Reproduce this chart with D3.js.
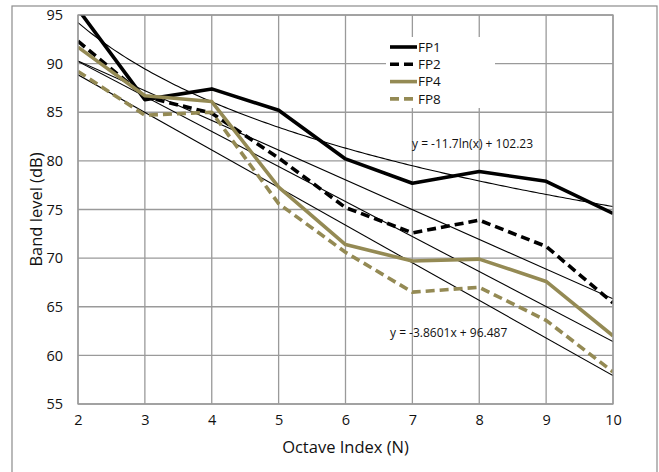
<!DOCTYPE html>
<html><head><meta charset="utf-8">
<script src="https://cdn.jsdelivr.net/npm/d3@7"></script>
<style>
html,body{margin:0;padding:0;background:#fff;}
svg{display:block;font-family:"Open Sans",sans-serif;}
</style></head>
<body>
<svg id="c" width="659" height="472"></svg>
<script>
const octaves = [2,3,4,5,6,7,8,9,10];
const fp1 = [95.6,86.3,87.4,85.2,80.2,77.7,78.9,77.9,74.6];
const fp2 = [92.3,86.6,84.9,80.3,75.2,72.6,73.9,71.2,65.4];
const fp4 = [91.7,86.7,86.1,77.3,71.4,69.7,69.9,67.6,62.0];
const fp8 = [89.2,84.7,85.0,75.6,70.6,66.5,67.0,63.6,58.3];
const seriesNames = ["FP1","FP2","FP4","FP8"];
const yTicks = [55,60,65,70,75,80,85,90,95];
const xTicks = [2,3,4,5,6,7,8,9,10];
const eqLog = "y = -11.7ln(x) + 102.23";
const eqLin = "y = -3.8601x + 96.487";

const series = [
  {name:"FP1", values:fp1, color:"#000", dash:null, trend:"log"},
  {name:"FP2", values:fp2, color:"#000", dash:"9,5", trend:"lin"},
  {name:"FP4", values:fp4, color:"#948A54", dash:null, trend:"lin"},
  {name:"FP8", values:fp8, color:"#948A54", dash:"9,5", trend:"lin"}
];

const svg = d3.select("#c");
const L=78, R=613, T=15, B=404;
const x = d3.scaleLinear().domain([2,10]).range([L,R]);
const y = d3.scaleLinear().domain([55,95]).range([B,T]);

svg.append("rect").attr("x",12).attr("y",6).attr("width",645).attr("height",480)
  .attr("fill","#fff").attr("stroke","#8c8c8c").attr("stroke-width",1.2);

const grid = svg.append("g");
grid.selectAll(".gy").data(yTicks).join("line")
  .attr("x1",L).attr("x2",R).attr("y1",d=>y(d)).attr("y2",d=>y(d))
  .attr("stroke","#9a9a9a").attr("stroke-width",1.3);
grid.selectAll(".gx").data(xTicks).join("line")
  .attr("y1",T).attr("y2",B).attr("x1",d=>x(d)).attr("x2",d=>x(d))
  .attr("stroke","#9a9a9a").attr("stroke-width",1.3);

const yAxis = svg.append("g").attr("transform",`translate(${L},0)`)
  .call(d3.axisLeft(y).tickValues(yTicks).tickSize(0).tickPadding(15));
const xAxis = svg.append("g").attr("transform",`translate(0,${B})`)
  .call(d3.axisBottom(x).tickValues(xTicks).tickSize(0).tickPadding(11));
[yAxis,xAxis].forEach(a=>{
  a.select(".domain").remove();
  a.selectAll("text").attr("font-family","Open Sans, sans-serif").attr("font-size",14.5).attr("fill","#111");
});

const lg = svg.append("g");
lg.append("rect").attr("x",386).attr("y",37).attr("width",109).attr("height",71).attr("fill","#fff");

svg.append("clipPath").attr("id","clip").append("rect")
  .attr("x",L).attr("y",T).attr("width",R-L).attr("height",B-T);
const plot = svg.append("g").attr("clip-path","url(#clip)");

function linFit(xs,ys){
  const mx=d3.mean(xs), my=d3.mean(ys);
  let sxy=0,sxx=0; xs.forEach((v,i)=>{sxy+=(v-mx)*(ys[i]-my);sxx+=(v-mx)*(v-mx);});
  const b=sxy/sxx; return {b, a:my-b*mx};
}
series.forEach(s=>{
  let pts;
  if(s.trend==="log"){
    const f=linFit(octaves.map(Math.log), s.values);
    pts=d3.range(2,10.001,0.05).map(v=>[v,f.a+f.b*Math.log(v)]);
  } else {
    const f=linFit(octaves, s.values);
    pts=[[2,f.a+f.b*2],[10,f.a+f.b*10]];
  }
  plot.append("path").datum(pts)
    .attr("d",d3.line().x(d=>x(d[0])).y(d=>y(d[1])))
    .attr("fill","none").attr("stroke","#000").attr("stroke-width",1.1);
});

const line = d3.line().x((d,i)=>x(octaves[i])).y(d=>y(d));
series.forEach(s=>{
  plot.append("path").datum(s.values).attr("d",line)
    .attr("fill","none").attr("stroke",s.color).attr("stroke-width",3.6)
    .attr("stroke-linejoin","round")
    .attr("stroke-dasharray",s.dash);
});

svg.append("rect").attr("x",L).attr("y",T).attr("width",R-L).attr("height",B-T)
  .attr("fill","none").attr("stroke","#9a9a9a").attr("stroke-width",1.3);

series.forEach((s,i)=>{
  const ly = 47 + i*17.3;
  lg.append("line").attr("x1",390).attr("x2",417).attr("y1",ly).attr("y2",ly)
    .attr("stroke",s.color).attr("stroke-width",3.6).attr("stroke-dasharray",s.dash);
  lg.append("text").attr("x",418).attr("y",ly).attr("dy","0.36em")
    .attr("font-size",13.5).attr("fill","#111").text(seriesNames[i]);
});

svg.append("text").attr("x",412).attr("y",144).attr("dy","0.35em")
  .attr("font-size",12).attr("fill","#111").text(eqLog);
svg.append("text").attr("x",390).attr("y",333).attr("dy","0.35em")
  .attr("font-size",12).attr("fill","#111").text(eqLin);

svg.append("text").attr("x",345.5).attr("y",447).attr("dy","0.35em").attr("text-anchor","middle")
  .attr("font-size",16.5).attr("fill","#111").text("Octave Index (N)");
svg.append("text").attr("transform","translate(36,209.5) rotate(-90)").attr("dy","0.35em")
  .attr("text-anchor","middle").attr("font-size",16.5).attr("fill","#111").text("Band level (dB)");
</script>
</body></html>
